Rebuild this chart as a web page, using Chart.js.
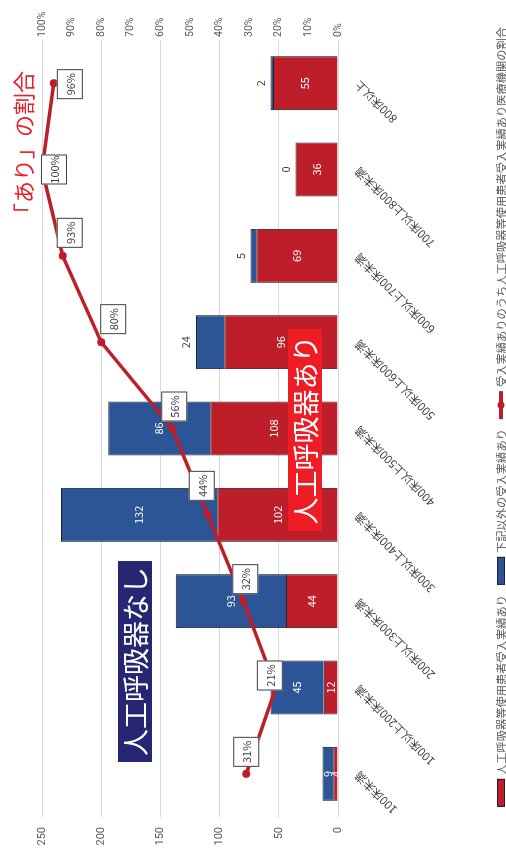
<!DOCTYPE html>
<html>
<head>
<meta charset="utf-8">
<script src="https://cdn.jsdelivr.net/npm/chart.js@4"></script>
<style>
  html, body { margin: 0; padding: 0; background: #fff; }
  /* chart is laid out landscape and turned a quarter turn to fit the page */
  #wrap { position: absolute; left: 0; top: 858px; width: 858px; height: 506px;
          transform-origin: 0 0; transform: rotate(-90deg); }
</style>
</head>
<body>
<div id="wrap"><canvas id="myChart" width="858" height="506"></canvas></div>
<script>
var beds = ['100床未満', '100床以上200床未満', '200床以上300床未満', '300床以上400床未満',
            '400床以上500床未満', '500床以上600床未満', '600床以上700床未満',
            '700床以上800床未満', '800床以上'];
var ventilatorCounts = [4, 12, 44, 102, 108, 96, 69, 36, 55];
var otherCounts = [9, 45, 93, 132, 86, 24, 5, 0, 2];
var ventilatorShare = [31, 21, 32, 44, 56, 80, 93, 100, 96];

var seriesNames = ['人工呼吸器等使用患者受入実績あり', '下記以外の受入実績あり',
                   '受入実績ありのうち人工呼吸器等使用患者受入実績あり医療機関の割合'];

var RED = '#be1e2a';
var BLUE = '#2b5596';
var FONT = '"Noto Sans CJK JP", "Noto Sans", sans-serif';
var NUMFONT = 'Roboto, "Noto Sans", sans-serif';

// where the blue count sits: inside the segment or just past its end
var otherLabelPos = ['in', 'in', 'in', 'in', 'in', 'out', 'out', 'out', 'out'];
// shift of each percentage box from its point
var shareLabelShift = [[22, 0], [12, -6], [22, 2], [29, -6], [22, 2], [23, 12], [23, 7], [0, 12], [-1, 16]];

var barLabels = {
    id: 'barLabels',
    afterDatasetsDraw: function(chart) {
        var ctx = chart.ctx;
        ctx.save();
        ctx.font = '11px ' + FONT;
        ctx.textAlign = 'center';
        ctx.textBaseline = 'middle';
        chart.getDatasetMeta(0).data.forEach(function(bar, i) {
            ctx.fillStyle = '#fff';
            ctx.fillText(ventilatorCounts[i], bar.x, (bar.y + bar.base) / 2);
        });
        chart.getDatasetMeta(1).data.forEach(function(bar, i) {
            if (otherLabelPos[i] == 'in') {
                ctx.fillStyle = '#fff';
                ctx.fillText(otherCounts[i], bar.x, (bar.y + bar.base) / 2);
            } else {
                ctx.fillStyle = '#404040';
                ctx.fillText(otherCounts[i], bar.x, bar.y - 10);
            }
        });
        ctx.restore();
    }
};

var shareLabels = {
    id: 'shareLabels',
    afterDatasetsDraw: function(chart) {
        var ctx = chart.ctx;
        ctx.save();
        ctx.font = '11px ' + FONT;
        ctx.textAlign = 'center';
        ctx.textBaseline = 'middle';
        chart.getDatasetMeta(2).data.forEach(function(pt, i) {
            var cx = pt.x + shareLabelShift[i][0];
            var cy = pt.y + shareLabelShift[i][1];
            ctx.fillStyle = '#fff';
            ctx.fillRect(cx - 15, cy - 13, 30, 26);
            ctx.strokeStyle = '#404040';
            ctx.lineWidth = 1;
            ctx.strokeRect(cx - 14.5, cy - 12.5, 29, 25);
            ctx.fillStyle = '#404040';
            ctx.fillText(ventilatorShare[i] + '%', cx, cy + 1);
        });
        ctx.restore();
    }
};

// callout boxes and the legend row
var notes = {
    id: 'notes',
    afterDraw: function(chart) {
        var ctx = chart.ctx;
        ctx.save();
        ctx.textAlign = 'center';
        ctx.textBaseline = 'middle';

        ctx.fillStyle = '#262673';
        ctx.fillRect(96, 118, 201, 34);
        ctx.fillStyle = '#fff';
        ctx.font = '27px ' + FONT;
        ctx.fillText('人工呼吸器なし', 196.5, 136);

        ctx.fillStyle = '#ee1c24';
        ctx.fillRect(327, 288, 202, 34);
        ctx.fillStyle = '#fff';
        ctx.fillText('人工呼吸器あり', 428, 306);

        ctx.fillStyle = '#ee1c24';
        ctx.font = '22px ' + FONT;
        ctx.fillText('「あり」の割合', 710, 24);

        // legend
        ctx.font = '11.25px ' + FONT;
        ctx.textAlign = 'left';
        var widths = seriesNames.map(function(s) { return ctx.measureText(s).width; });
        var total = 0;
        widths.forEach(function(w) { total += 28 + 4 + w + 10; });
        total -= 10;
        var x = 441 - total / 2;
        var y = 501;
        for (var i = 0; i < 3; i++) {
            if (i < 2) {
                ctx.fillStyle = i == 0 ? RED : BLUE;
                ctx.fillRect(x, y - 4, 28, 8);
                ctx.strokeStyle = '#222';
                ctx.lineWidth = 1;
                ctx.strokeRect(x + 0.5, y - 3.5, 27, 7);
            } else {
                ctx.strokeStyle = RED;
                ctx.lineWidth = 4;
                ctx.beginPath();
                ctx.moveTo(x, y);
                ctx.lineTo(x + 28, y);
                ctx.stroke();
                ctx.fillStyle = RED;
                ctx.beginPath();
                ctx.arc(x + 14, y, 3.5, 0, Math.PI * 2);
                ctx.fill();
            }
            ctx.fillStyle = '#595959';
            ctx.fillText(seriesNames[i], x + 32, y + 1);
            x += 28 + 4 + widths[i] + 10;
        }
        ctx.restore();
    }
};

new Chart('myChart', {
    data: {
        labels: beds,
        datasets: [{
            type: 'bar',
            label: seriesNames[0],
            data: ventilatorCounts,
            backgroundColor: RED,
            borderColor: '#222',
            borderWidth: 1,
            yAxisID: 'y',
            stack: 'beds',
            order: 2
        }, {
            type: 'bar',
            label: seriesNames[1],
            data: otherCounts,
            backgroundColor: BLUE,
            borderColor: '#222',
            borderWidth: 1,
            yAxisID: 'y',
            stack: 'beds',
            order: 2
        }, {
            type: 'line',
            label: seriesNames[2],
            data: ventilatorShare,
            borderColor: RED,
            backgroundColor: RED,
            borderWidth: 3.5,
            pointRadius: 4,
            pointBackgroundColor: RED,
            pointBorderWidth: 0,
            yAxisID: 'y1',
            order: 1
        }]
    },
    options: {
        responsive: false,
        animation: false,
        datasets: { bar: { barPercentage: 0.625, categoryPercentage: 1 } },
        layout: { padding: { top: 42, left: 13, right: 12, bottom: 0 } },
        scales: {
            x: {
                stacked: true,
                grid: { display: false },
                border: { display: false },
                ticks: {
                    autoSkip: false, minRotation: 45, maxRotation: 45, padding: 6,
                    color: '#404040', font: { size: 11.5, family: FONT }
                },
                afterFit: function(scale) { scale.height = 168; }
            },
            y: {
                stacked: true,
                position: 'left',
                min: 0, max: 250,
                grid: { color: '#d9d9d9', drawTicks: false },
                border: { display: false },
                ticks: { stepSize: 50, padding: 10, color: '#595959', font: { size: 11, family: NUMFONT } },
                afterFit: function(scale) { scale.width = 28; }
            },
            y1: {
                position: 'right',
                min: 0, max: 100,
                grid: { display: false, drawTicks: false },
                border: { display: false },
                ticks: {
                    stepSize: 10, padding: 3, color: '#595959', font: { size: 10.5, family: NUMFONT },
                    callback: function(v) { return v + '%'; }
                },
                afterFit: function(scale) { scale.width = 28; }
            }
        },
        plugins: {
            legend: { display: false },
            tooltip: { enabled: false }
        }
    },
    plugins: [barLabels, shareLabels, notes]
});
</script>
</body>
</html>
